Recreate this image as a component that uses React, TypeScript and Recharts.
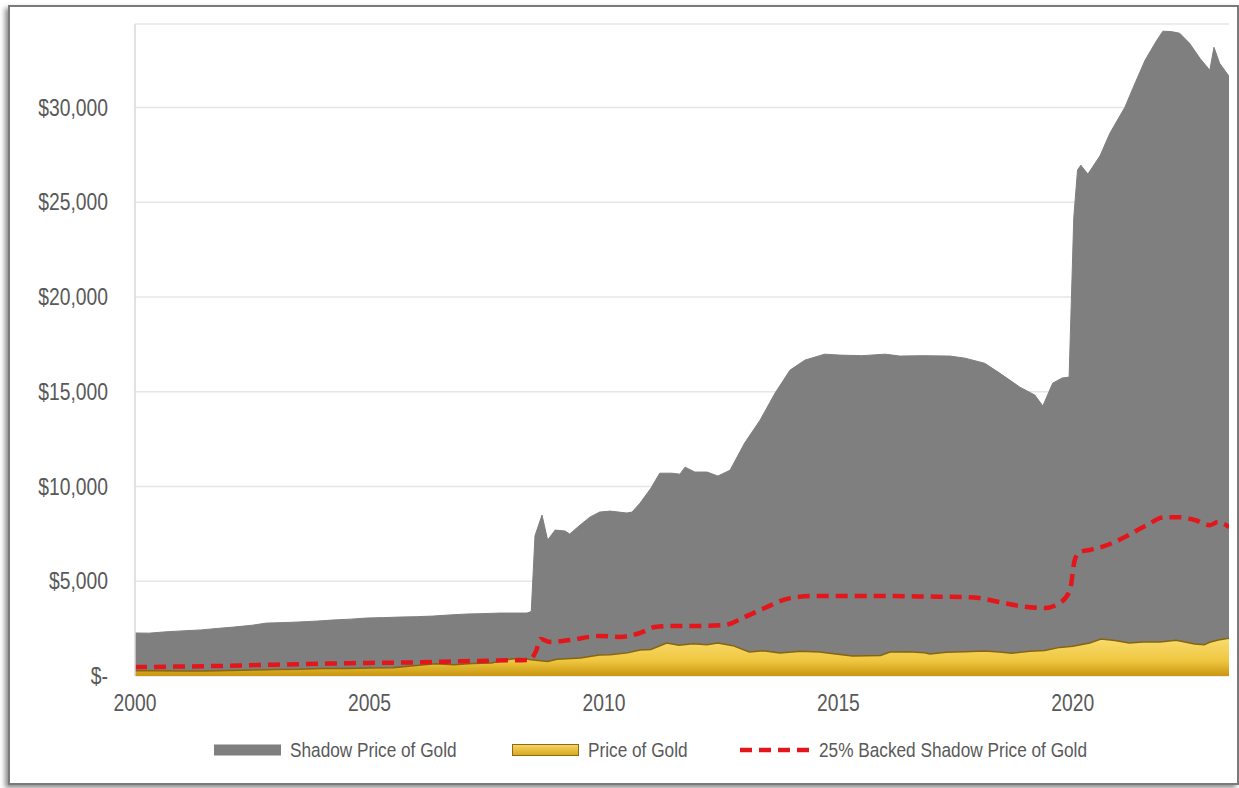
import React from 'react';
import { ComposedChart, Area, Line, XAxis, YAxis, CartesianGrid } from 'recharts';

const shadowYears = [
  2000.0, 2000.3, 2000.6, 2001.0, 2001.4, 2001.8, 2002.1, 2002.5, 2002.8, 2003.2, 2003.5, 2003.9,
  2004.2, 2004.6, 2004.95, 2005.3, 2005.65, 2006.0, 2006.35, 2006.7, 2007.08, 2007.4, 2007.78, 2008.36,
  2008.45, 2008.53, 2008.68, 2008.8, 2008.96, 2009.17, 2009.27, 2009.49, 2009.7, 2009.91, 2010.13, 2010.49,
  2010.6, 2010.77, 2011.0, 2011.19, 2011.45, 2011.62, 2011.73, 2011.94, 2012.2, 2012.43, 2012.69, 2013.0,
  2013.33, 2013.65, 2013.97, 2014.29, 2014.71, 2015.03, 2015.5, 2016.0, 2016.31, 2016.8, 2017.38, 2017.7,
  2018.12, 2018.44, 2018.87, 2019.19, 2019.36, 2019.57, 2019.77, 2019.92, 2020.02, 2020.1, 2020.17, 2020.32,
  2020.58, 2020.79, 2021.11, 2021.28, 2021.54, 2021.79, 2021.92, 2022.1, 2022.28, 2022.49, 2022.71, 2022.92,
  2023.01, 2023.13, 2023.33,
];
const shadowValues = [
  2270, 2260, 2320, 2380, 2430, 2520, 2580, 2680, 2790, 2820, 2850, 2900,
  2950, 3000, 3060, 3080, 3110, 3130, 3160, 3220, 3270, 3290, 3320, 3320,
  3400, 7400, 8490, 7170, 7700, 7650, 7490, 7960, 8380, 8650, 8700, 8600,
  8650, 9120, 9900, 10700, 10700, 10650, 11020, 10760, 10760, 10550, 10860, 12290,
  13500, 14930, 16140, 16670, 16980, 16930, 16900, 16980, 16880, 16900, 16880, 16770,
  16500, 15980, 15240, 14820, 14240, 15450, 15720, 15770, 24200, 26700, 26950, 26480,
  27450, 28640, 30010, 31010, 32490, 33540, 34020, 34000, 33910, 33380, 32590, 31960,
  33170, 32330, 31640,
];

const goldYears = [
  2000.0, 2000.5, 2001.0, 2001.5, 2002.0, 2002.5, 2003.0, 2003.5, 2004.0, 2004.5, 2005.0, 2005.5,
  2006.0, 2006.4, 2006.8, 2007.2, 2007.6, 2008.0, 2008.2, 2008.5, 2008.8, 2009.0, 2009.5, 2009.9,
  2010.13, 2010.5, 2010.77, 2011.0, 2011.34, 2011.6, 2011.9, 2012.2, 2012.43, 2012.75, 2013.1, 2013.4,
  2013.75, 2014.2, 2014.6, 2014.9, 2015.3, 2015.9, 2016.1, 2016.5, 2016.84, 2016.95, 2017.3, 2017.7,
  2018.1, 2018.44, 2018.7, 2019.08, 2019.4, 2019.72, 2020.0, 2020.36, 2020.6, 2020.9, 2021.2, 2021.5,
  2021.86, 2022.2, 2022.6, 2022.8, 2022.92, 2023.1, 2023.33,
];
const goldValues = [
  280, 275, 265, 270, 290, 320, 345, 350, 400, 400, 425, 430,
  550, 650, 600, 660, 690, 880, 930, 850, 760, 880, 950, 1110,
  1120, 1220, 1370, 1400, 1740, 1620, 1700, 1650, 1740, 1600, 1270, 1330,
  1210, 1300, 1260, 1180, 1050, 1080, 1270, 1280, 1230, 1160, 1250, 1280,
  1320, 1270, 1200, 1300, 1340, 1510, 1570, 1740, 1950, 1870, 1740, 1800,
  1790, 1880, 1690, 1650, 1780, 1900, 1990,
];

const backedYears = [
  2000.0, 2001.0, 2002.0, 2003.0, 2004.0, 2005.0, 2006.0, 2007.0, 2008.0, 2008.4, 2008.55, 2008.65,
  2008.85, 2009.27, 2009.91, 2010.34, 2010.77, 2011.09, 2011.51, 2012.05, 2012.58, 2013.0, 2013.43, 2013.97,
  2014.5, 2015.25, 2016.0, 2016.95, 2017.6, 2018.0, 2018.44, 2018.87, 2019.4, 2019.72, 2019.94, 2020.04,
  2020.15, 2020.36, 2020.68, 2021.11, 2021.54, 2021.96, 2022.28, 2022.6, 2022.92, 2023.09, 2023.33,
];
const backedValues = [
  470, 500, 540, 600, 650, 690, 720, 780, 830, 840, 1300, 1950,
  1800, 1900, 2110, 2060, 2270, 2580, 2640, 2640, 2690, 3110, 3590, 4110,
  4220, 4220, 4220, 4190, 4170, 4110, 3900, 3690, 3590, 3850, 4540, 6120,
  6540, 6650, 6860, 7330, 7910, 8380, 8380, 8230, 7960, 8120, 7860,
];

const yTicks = [0, 5000, 10000, 15000, 20000, 25000, 30000];
const xTicks = [2000, 2005, 2010, 2015, 2020];

const shadowData = shadowYears.map((year, i) => ({ year, value: shadowValues[i] }));
const goldData = goldYears.map((year, i) => ({ year, value: goldValues[i] }));
const backedData = backedYears.map((year, i) => ({ year, value: backedValues[i] }));

// no narrow font installed, so squeeze Liberation Sans horizontally
const FONT = "'Liberation Sans', Arial, sans-serif";
const SQUEEZE = 0.84;
const TEXT = '#595959';
const RED = '#e3161c';

function formatDollar(v: number): string {
  if (v === 0) {
    return '$-';
  }
  return '$' + v.toLocaleString('en-US');
}

function YTick({ x, y, payload }: any) {
  return (
    <g transform={`translate(${x},${y}) scale(${SQUEEZE},1)`}>
      <text x={0} y={0} dy='0.355em' textAnchor='end' fill={TEXT} fontSize={23} fontFamily={FONT}>
        {formatDollar(payload.value)}
      </text>
    </g>
  );
}

function XTick({ x, y, payload }: any) {
  return (
    <g transform={`translate(${x},${y}) scale(${SQUEEZE},1)`}>
      <text x={0} y={0} dy='0.71em' textAnchor='middle' fill={TEXT} fontSize={23} fontFamily={FONT}>
        {payload.value}
      </text>
    </g>
  );
}

function ChartLegend() {
  const item = { position: 'absolute' as const, top: 738, display: 'flex', alignItems: 'center', height: 24 };
  const label = {
    fontFamily: FONT,
    fontSize: 20.5,
    color: TEXT,
    marginLeft: 9,
    whiteSpace: 'nowrap' as const,
    display: 'inline-block',
    transform: `scaleX(${SQUEEZE})`,
    transformOrigin: 'left center',
  };
  return (
    <>
      <div style={{ ...item, left: 214 }}>
        <svg width={67} height={12}>
          <rect x={0} y={0.5} width={67} height={11} fill='#7f7f7f' />
        </svg>
        <span style={label}>Shadow Price of Gold</span>
      </div>
      <div style={{ ...item, left: 512 }}>
        <svg width={67} height={12}>
          <defs>
            <linearGradient id='legendGold' x1='0' y1='0' x2='0' y2='1'>
              <stop offset='0%' stopColor='#f7d766' />
              <stop offset='100%' stopColor='#d8a61c' />
            </linearGradient>
          </defs>
          <rect x={0.5} y={0.5} width={66} height={11} fill='url(#legendGold)' stroke='#8a6a12' />
        </svg>
        <span style={label}>Price of Gold</span>
      </div>
      <div style={{ ...item, left: 740 }}>
        <svg width={70} height={12}>
          <line x1={0} y1={6} x2={70} y2={6} stroke={RED} strokeWidth={4.5} strokeDasharray='12 7' />
        </svg>
        <span style={label}>25% Backed Shadow Price of Gold</span>
      </div>
    </>
  );
}

export default function App() {
  return (
    <div style={{ position: 'absolute', left: 0, top: 0, width: 1239, height: 788, background: '#fff' }}>
      <div
        style={{
          position: 'absolute',
          left: 8,
          top: 5,
          width: 1227,
          height: 776,
          border: '2px solid #7a7a7a',
          boxShadow: '-3px 3px 5px rgba(0,0,0,0.45)',
          background: '#fff',
        }}
      />
      <div style={{ position: 'absolute', left: 0, top: 0 }}>
        <ComposedChart width={1239} height={788} margin={{ top: 24, right: 10, left: 10, bottom: 72 }}>
          <defs>
            <linearGradient id='goldFill' x1='0' y1='0' x2='0' y2='1'>
              <stop offset='0%' stopColor='#f9dc6e' />
              <stop offset='60%' stopColor='#efc640' />
              <stop offset='100%' stopColor='#c9960f' />
            </linearGradient>
          </defs>
          <CartesianGrid vertical={false} stroke='#e6e6e6' strokeWidth={1.5} />
          <XAxis
            type='number'
            dataKey='year'
            domain={[2000, 2023.33]}
            ticks={xTicks}
            allowDataOverflow
            height={40}
            tickSize={0}
            tickMargin={19}
            axisLine={false}
            tick={<XTick />}
          />
          <YAxis
            type='number'
            domain={[0, 34400]}
            ticks={yTicks}
            allowDataOverflow
            width={125}
            tickSize={0}
            tickMargin={27}
            axisLine={{ stroke: '#d9d9d9', strokeWidth: 1.5 }}
            tick={<YTick />}
          />
          <Area
            data={shadowData}
            dataKey='value'
            type='linear'
            fill='#7f7f7f'
            fillOpacity={1}
            stroke='#7f7f7f'
            strokeWidth={1}
            isAnimationActive={false}
          />
          <Area
            data={goldData}
            dataKey='value'
            type='linear'
            fill='url(#goldFill)'
            fillOpacity={1}
            stroke='#86650e'
            strokeWidth={1.5}
            isAnimationActive={false}
          />
          <Line
            data={backedData}
            dataKey='value'
            type='monotone'
            stroke={RED}
            strokeWidth={4.5}
            strokeDasharray='12 7'
            dot={false}
            isAnimationActive={false}
          />
        </ComposedChart>
      </div>
      <ChartLegend />
    </div>
  );
}
